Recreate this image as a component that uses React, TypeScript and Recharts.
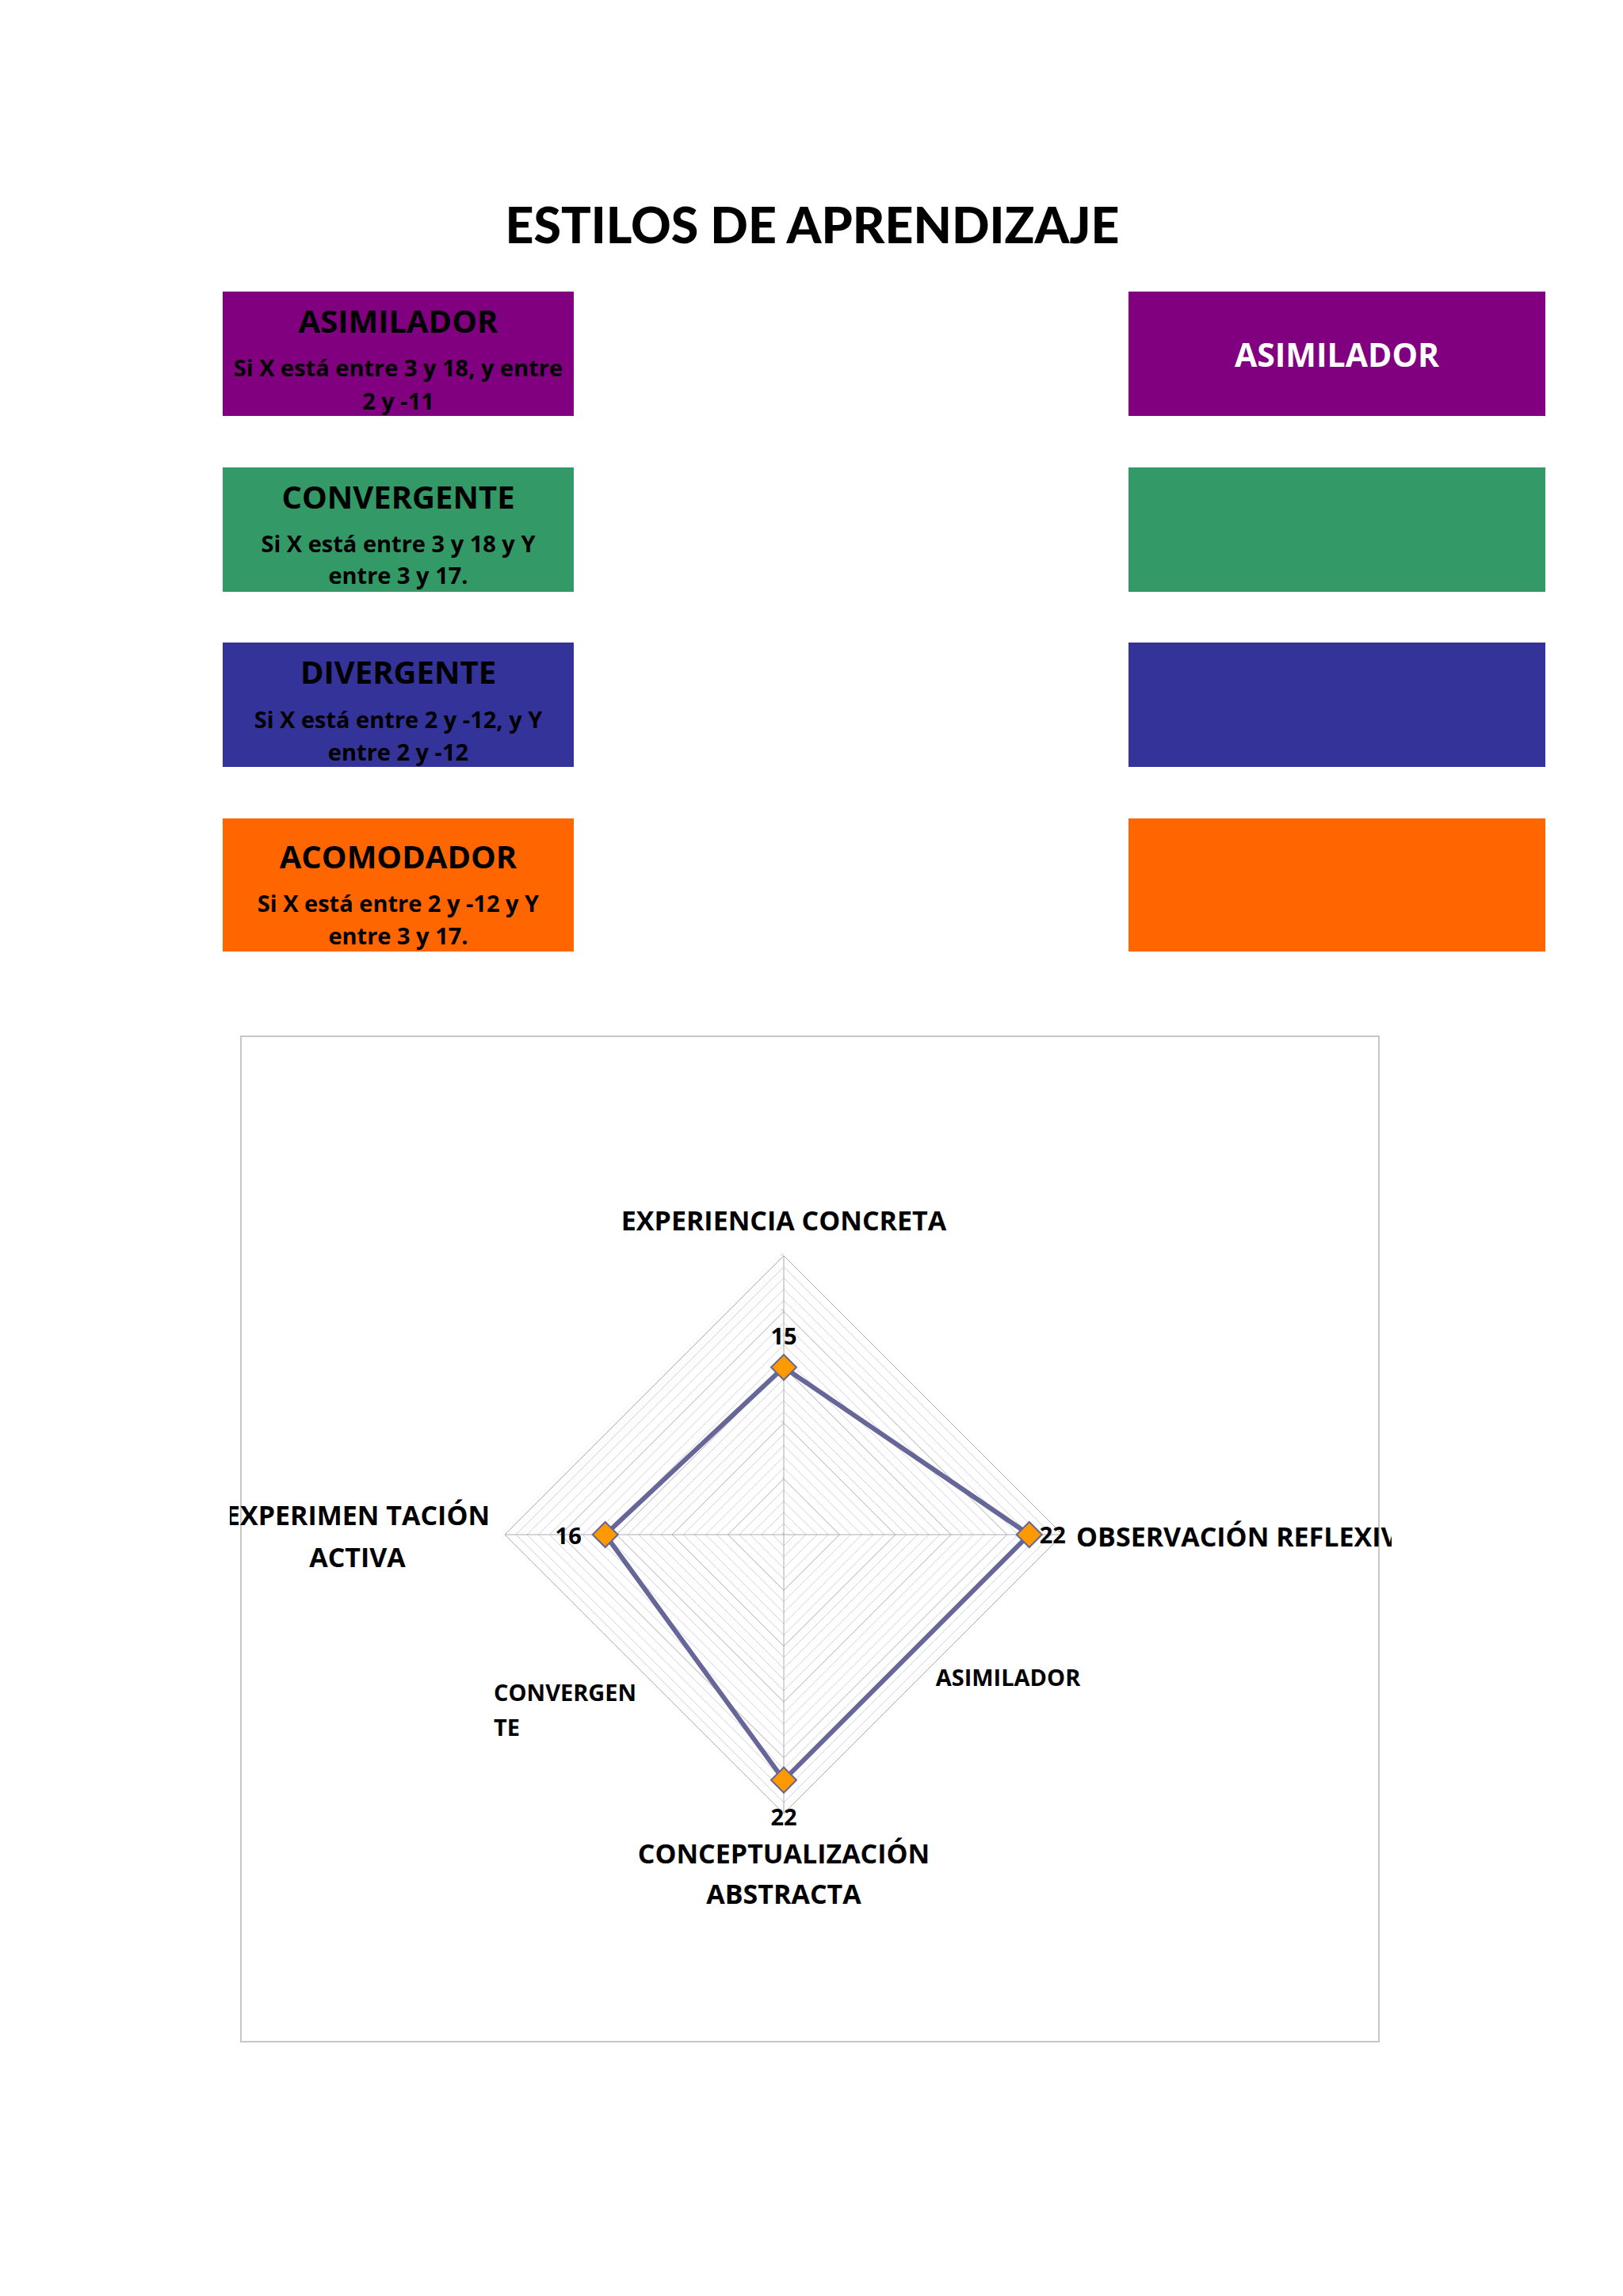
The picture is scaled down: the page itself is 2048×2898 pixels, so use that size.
import React from 'react';
import { RadarChart, Radar, PolarGrid, PolarAngleAxis, PolarRadiusAxis } from 'recharts';

// ---------- data ----------
const categories = [
  'EXPERIENCIA CONCRETA',
  'OBSERVACIÓN REFLEXIVA',
  'CONCEPTUALIZACIÓN ABSTRACTA',
  'EXPERIMENTACIÓN ACTIVA',
];
const categoryLines = [
  ['EXPERIENCIA CONCRETA'],
  ['OBSERVACIÓN REFLEXIVA'],
  ['CONCEPTUALIZACIÓN', 'ABSTRACTA'],
  ['EXPERIMEN TACIÓN', 'ACTIVA'],
];
const values = [15, 22, 22, 16];
const radiusDomain = [0, 25];
const majorTicks = [0, 5, 10, 15, 20, 25];
const minorTicks = [1, 2, 3, 4, 6, 7, 8, 9, 11, 12, 13, 14, 16, 17, 18, 19, 21, 22, 23, 24];

const pageTitle = 'ESTILOS DE APRENDIZAJE';
const styleNames = ['ASIMILADOR', 'CONVERGENTE', 'DIVERGENTE', 'ACOMODADOR'];
const styleRules = [
  ['Si X está entre 3 y 18, y entre', '2 y -11'],
  ['Si X está entre 3 y 18 y Y', 'entre 3 y 17.'],
  ['Si X está entre 2 y -12, y Y', 'entre 2 y -12'],
  ['Si X está entre 2 y -12 y Y', 'entre 3 y 17.'],
];
const resultLabels = ['ASIMILADOR', '', '', ''];
const quadrantLabels = ['ASIMILADOR', 'CONVERGEN', 'TE'];

// ---------- styles / layout ----------
const BOX_COLORS = ['#800080', '#339966', '#333399', '#FF6600'];
const BOX_TOPS = [368, 590, 811, 1033];
const BOX_HEIGHTS = [157, 157, 157, 168];
const TITLE_DY = [52, 52, 52, 63];
const LINE1_DY = [107, 107, 108, 118];
const LINE2_DY = [149, 147, 149, 159];
const LEFT_X = 281;
const LEFT_W = 443;
const RIGHT_X = 1424;
const RIGHT_W = 526;
const FONT = "'Open Sans', 'Noto Sans', sans-serif";

const WRAP_L = 290;
const WRAP_T = 1294;
const WRAP_W = 1466;
const WRAP_H = 1297;
const CX = 699;
const CY = 643;
const OUTER_R = 352;

const rScale = (v: number) => (OUTER_R * (v - radiusDomain[0])) / (radiusDomain[1] - radiusDomain[0]);

const data = categories.map((c, i) => ({ subject: c, value: values[i] }));

const TICK_LAYOUT = [
  { anchor: 'middle', dx: 0, dys: [-24] },
  { anchor: 'start', dx: 9, dys: [15] },
  { anchor: 'middle', dx: 0, dys: [55, 106] },
  { anchor: 'middle', dx: -178, dys: [-12, 41] },
];

const renderTick = (props: any) => {
  const { x, y, payload } = props;
  const idx = categories.indexOf(payload.value);
  const lay = TICK_LAYOUT[idx] || TICK_LAYOUT[0];
  const lines = categoryLines[idx] || [payload.value];
  return (
    <g>
      {lines.map((ln, k) => (
        <text
          key={k}
          x={x + lay.dx}
          y={y + lay.dys[k]}
          textAnchor={lay.anchor as any}
          fontFamily={FONT}
          fontWeight={700}
          fontSize={34}
          fill="#000"
        >
          {ln}
        </text>
      ))}
    </g>
  );
};

const renderDot = (props: any) => {
  const { cx, cy } = props;
  const s = 16;
  return (
    <polygon
      key={`d-${cx}-${cy}`}
      points={`${cx},${cy - s} ${cx + s},${cy} ${cx},${cy + s} ${cx - s},${cy}`}
      fill="#FF9900"
      stroke="#666699"
      strokeWidth={2}
    />
  );
};

const renderLabel = (props: any) => {
  const { x, y, value } = props;
  const ddx = x - CX;
  const ddy = y - CY;
  let tx = x;
  let ty = y;
  let anchor = 'middle';
  if (Math.abs(ddy) > Math.abs(ddx)) {
    if (ddy < 0) ty = y - 29;
    else ty = y + 57;
  } else if (ddx > 0) {
    tx = x + 13;
    ty = y + 11;
    anchor = 'start';
  } else {
    tx = x - 30;
    ty = y + 12;
    anchor = 'end';
  }
  return (
    <text
      key={`l-${x}-${y}`}
      x={tx}
      y={ty}
      textAnchor={anchor as any}
      fontFamily={FONT}
      fontWeight={700}
      fontSize={29}
      fill="#000"
    >
      {value}
    </text>
  );
};

export default function App() {
  return (
    <div style={{ position: 'absolute', left: 0, top: 0, width: 2048, height: 2898, background: '#fff' }}>
      <svg width={2048} height={2898} style={{ position: 'absolute', left: 0, top: 0 }}>
        <text
          x={1025}
          y={307}
          textAnchor="middle"
          textLength={775}
          lengthAdjust="spacingAndGlyphs"
          fontFamily="'Comic Sans MS', 'Lato', 'DejaVu Sans', sans-serif"
          fontWeight={900}
          fontSize={62}
          fill="#000"
        >
          {pageTitle}
        </text>
        {styleNames.map((name, i) => (
          <g key={name}>
            <rect x={LEFT_X} y={BOX_TOPS[i]} width={LEFT_W} height={BOX_HEIGHTS[i]} fill={BOX_COLORS[i]} />
            <text
              x={LEFT_X + LEFT_W / 2}
              y={BOX_TOPS[i] + TITLE_DY[i]}
              textAnchor="middle"
              fontFamily={FONT}
              fontWeight={700}
              fontSize={40}
              fill="#000"
            >
              {name}
            </text>
            <text
              x={LEFT_X + LEFT_W / 2}
              y={BOX_TOPS[i] + LINE1_DY[i]}
              textAnchor="middle"
              fontFamily={FONT}
              fontWeight={700}
              fontSize={29}
              fill="#000"
            >
              {styleRules[i][0]}
            </text>
            <text
              x={LEFT_X + LEFT_W / 2}
              y={BOX_TOPS[i] + LINE2_DY[i]}
              textAnchor="middle"
              fontFamily={FONT}
              fontWeight={700}
              fontSize={29}
              fill="#000"
            >
              {styleRules[i][1]}
            </text>
            <rect x={RIGHT_X} y={BOX_TOPS[i]} width={RIGHT_W} height={BOX_HEIGHTS[i]} fill={BOX_COLORS[i]} />
            {resultLabels[i] ? (
              <text
                x={RIGHT_X + RIGHT_W / 2}
                y={BOX_TOPS[i] + 95}
                textAnchor="middle"
                fontFamily={FONT}
                fontWeight={700}
                fontSize={41}
                fill="#fff"
              >
                {resultLabels[i]}
              </text>
            ) : null}
          </g>
        ))}
        <rect x={304} y={1308} width={1436} height={1269} fill="none" stroke="#c6c6c6" strokeWidth={2} />
        <text x={1272} y={2128} textAnchor="middle" fontFamily={FONT} fontWeight={700} fontSize={29} fill="#000">
          {quadrantLabels[0]}
        </text>
        <text x={623} y={2147} textAnchor="start" fontFamily={FONT} fontWeight={700} fontSize={29} fill="#000">
          {quadrantLabels[1]}
        </text>
        <text x={623} y={2191} textAnchor="start" fontFamily={FONT} fontWeight={700} fontSize={29} fill="#000">
          {quadrantLabels[2]}
        </text>
      </svg>
      <div style={{ position: 'absolute', left: WRAP_L, top: WRAP_T, width: WRAP_W, height: WRAP_H, overflow: 'hidden' }}>
        <RadarChart
          width={WRAP_W}
          height={WRAP_H}
          cx={CX}
          cy={CY}
          outerRadius={OUTER_R}
          data={data}
          margin={{ top: 0, right: 0, bottom: 0, left: 0 }}
        >
          <PolarGrid
            gridType="polygon"
            polarRadius={minorTicks.map(rScale)}
            radialLines={false}
            stroke="#cfcfdc"
            strokeWidth={1}
          />
          <PolarGrid
            gridType="polygon"
            polarRadius={majorTicks.filter((t) => t > 0).map(rScale)}
            radialLines={true}
            stroke="#acacac"
            strokeWidth={1}
          />
          <PolarAngleAxis dataKey="subject" tick={renderTick} tickLine={false} axisLine={false} />
          <PolarRadiusAxis
            angle={90}
            domain={radiusDomain}
            ticks={majorTicks}
            tickCount={6}
            type="number"
            axisLine={false}
            tickLine={false}
            orientation="left"
            tick={{ fontSize: 4, fill: '#aaaaaa' }}
          />
          <Radar
            dataKey="value"
            stroke="#666699"
            strokeWidth={6}
            fill="#666699"
            fillOpacity={0}
            dot={renderDot}
            label={renderLabel}
            isAnimationActive={false}
          />
        </RadarChart>
      </div>
    </div>
  );
}
